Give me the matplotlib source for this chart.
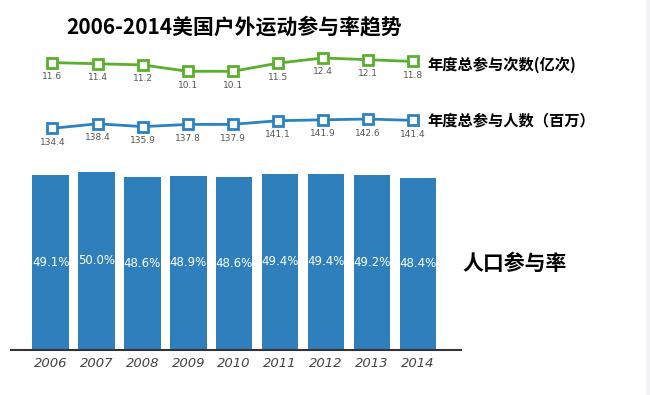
import matplotlib
matplotlib.use("Agg")
import matplotlib.pyplot as plt
import matplotlib.patches as patches

plt.rcParams['font.family'] = ['Noto Sans CJK SC', 'DejaVu Sans']

# data
years = ['2006', '2007', '2008', '2009', '2010', '2011', '2012', '2013', '2014']
rate = [49.1, 50.0, 48.6, 48.9, 48.6, 49.4, 49.4, 49.2, 48.4]          # 人口参与率 %
times = [11.6, 11.4, 11.2, 10.1, 10.1, 11.5, 12.4, 12.1, 11.8]         # 亿次
people = [134.4, 138.4, 135.9, 137.8, 137.9, 141.1, 141.9, 142.6, 141.4]  # 百万

W, H = 650, 395
fig = plt.figure(figsize=(6.5, 3.95), dpi=100)
fig.patch.set_facecolor('white')
# faint grey strip at right edge
fig.patches.append(patches.Rectangle((646 / W, 0), 4 / W, 1, transform=fig.transFigure,
                                     facecolor='#f2f2f6', edgecolor='none'))


def px_axes(left, top, right, bottom):
    # axes given in pixel coords measured from top-left
    return fig.add_axes([left / W, 1 - bottom / H, (right - left) / W, (bottom - top) / H])


xs = list(range(len(years)))
bar_col = '#2e7fbb'
green = '#5aaf2c'
blue = '#2a82c4'

# bars
ax = px_axes(11, 150, 461, 350)
ax.bar(xs, rate, width=0.795, color=bar_col)
ax.set_xlim((11 - 50.6) / 45.9, (461 - 50.6) / 45.9)
ax.set_ylim(0, 200 / 3.564)
for i, v in enumerate(rate):
    ax.text(i, v / 2, '%.1f%%' % v, ha='center', va='center', color='white',
            fontsize=8.5, family='DejaVu Sans')
ax.set_yticks([])
ax.set_xticks(xs)
ax.set_xticklabels(years, fontstyle='italic', fontsize=9.5, color='#444444', family='DejaVu Sans')
ax.tick_params(axis='x', length=0, pad=5)
for s in ['top', 'right', 'left']:
    ax.spines[s].set_visible(False)
ax.spines['bottom'].set_color('#333333')
ax.spines['bottom'].set_linewidth(1.5)
ax.patch.set_alpha(0)

# line helper: x mapping 0 -> 52.5px, 8 -> 413px
def line_axes(top, bottom, vtop, vbot):
    a = px_axes(0, top, 650, bottom)
    a.set_xlim(-52.5 / 45.06, (650 - 52.5) / 45.06)
    a.set_ylim(vbot, vtop)
    a.axis('off')
    return a


ag = line_axes(40, 100, 10.1 + 31.3 / 5.8, 10.1 - 28.7 / 5.8)
ag.plot(xs, times, color=green, lw=2, marker='s', ms=6.5, mfc='white', mec=green, mew=2)
for i, v in enumerate(times):
    ag.annotate('%.1f' % v, (i, v), xytext=(0, -14), textcoords='offset pixels',
                ha='center', va='center', fontsize=6.5, color='#555555', family='DejaVu Sans')

ab = line_axes(100, 150, 134.4 + 28.3 / 1.13, 134.4 - 21.7 / 1.13)
ab.plot(xs, people, color=blue, lw=2, marker='s', ms=6.5, mfc='white', mec=blue, mew=2)
for i, v in enumerate(people):
    ab.annotate('%.1f' % v, (i, v), xytext=(0, -14), textcoords='offset pixels',
                ha='center', va='center', fontsize=6.5, color='#555555', family='DejaVu Sans')

# texts
fig.text(66 / W, 1 - 28 / H, '2006-2014美国户外运动参与率趋势', fontsize=15, fontweight='bold',
         ha='left', va='center', color='black')
fig.text(427 / W, 1 - 65 / H, '年度总参与次数(亿次)', fontsize=11, fontweight='bold',
         ha='left', va='center', color='black')
fig.text(427 / W, 1 - 120 / H, '年度总参与人数（百万）', fontsize=11, fontweight='bold',
         ha='left', va='center', color='black')
fig.text(462 / W, 1 - 263 / H, '人口参与率', fontsize=15, fontweight='bold',
         ha='left', va='center', color='black')

fig.savefig('out.png', dpi=100)
